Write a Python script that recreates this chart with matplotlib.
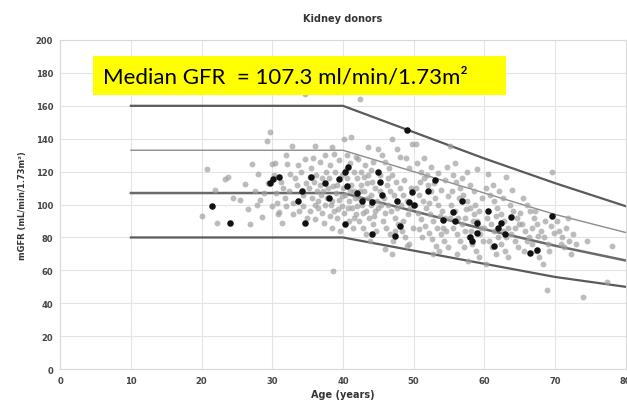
import matplotlib
matplotlib.use("Agg")
import matplotlib.pyplot as plt
from matplotlib.patches import Rectangle

# reference curves (age -> mGFR)
ref_age = [10, 40, 50, 60, 70, 80]
ref_top = [160, 160, 144, 128, 113, 99]
ref_upper = [133, 133, 120, 107, 94, 83]
ref_median = [107, 107, 96, 85, 75, 66]
ref_low = [80, 80, 72, 64, 56, 50]

# donors, grey points
grey = [
    (20, 93), (20.8, 121.6), (21.9, 109), (22.2, 89), (23.3, 115.5), (23.8, 117), (24.5, 104), (25.4, 103),
    (26.1, 112.5), (26.8, 88), (27.1, 124.6), (27.8, 100), (28, 118.5), (28.5, 92.4), (29.2, 138.6), (29.7, 144),
    (29.9, 124.6), (29.9, 99), (28.8, 107), (26.5, 97), (27.5, 108), (29.4, 113), (28.2, 103),
    (30.8, 94), (31, 95.4), (32.9, 94), (32.1, 124.6), (32.8, 135.6), (32.5, 118.5), (31.5, 110), (30.5, 107),
    (31.8, 104), (33.5, 112), (33, 101), (34, 120), (34.6, 127.7), (34.6, 167), (30.2, 118), (31.2, 114),
    (32.4, 108), (33.8, 96), (34.3, 106), (30.6, 101), (31.9, 99), (33.2, 116), (34.8, 113), (32, 130),
    (33.6, 124), (34.4, 99), (30.4, 125), (31.4, 89), (34.9, 92),
    (36, 135.6), (38.4, 135), (35.5, 122), (36.2, 118), (36.8, 112), (37.2, 108), (37.8, 104), (38.3, 100),
    (38.8, 96), (39.2, 92), (35.6, 104), (36.4, 98), (37, 95), (37.6, 120), (38, 116), (38.6, 111), (39, 107),
    (39.4, 103), (39.8, 99), (35.2, 110), (35.9, 114), (36.7, 126), (37.4, 130), (38.2, 124), (38.9, 120),
    (39.5, 127), (39.8, 118), (35.4, 96), (36.1, 91), (37.3, 89), (38.5, 86), (39.6, 84), (38.6, 59.6),
    (36.5, 102), (37.9, 110), (39.1, 112), (35.8, 128), (36.9, 106), (38.1, 93), (39.3, 97), (37.1, 116),
    (38.7, 131), (35.3, 117), (36.3, 108), (37.5, 100), (39.9, 105), (38.4, 102), (36, 100),
    (40.2, 140), (41.2, 141), (42.4, 164), (43.5, 135), (44.9, 133.7), (42.1, 127.7), (40.5, 130), (41, 125),
    (41.6, 120), (42, 116), (42.5, 112), (43, 108), (43.5, 104), (44, 100), (44.5, 96), (40.3, 106),
    (40.8, 102), (41.3, 98), (41.8, 94), (42.3, 90), (42.8, 86), (43.3, 82), (43.8, 78), (40.6, 116),
    (41.1, 112), (41.5, 108), (42.2, 104), (42.7, 100), (43.2, 96), (43.7, 92), (44.2, 88), (44.7, 84),
    (40.1, 95), (40.9, 90), (41.4, 86), (42.6, 120), (43.1, 124), (43.6, 118), (44.1, 114), (44.6, 110),
    (44.3, 126), (40.4, 121), (41.7, 104), (42.9, 95), (43.9, 106), (44.8, 102), (40.7, 98), (41.9, 129),
    (42.4, 108), (43.4, 113), (44.4, 93), (41, 108), (42, 99), (43, 117), (44, 121), (45, 98), (40, 110),
    (41.5, 92),
    (45.5, 130), (46, 126), (46.5, 122), (47, 118), (47.5, 114), (48, 110), (48.5, 106), (49, 102), (49.5, 98),
    (45.3, 108), (45.8, 104), (46.3, 100), (46.8, 96), (47.3, 92), (47.8, 88), (48.3, 84), (48.8, 80),
    (49.3, 76), (45.6, 90), (46.1, 86), (46.6, 82), (47.1, 78), (45.2, 118), (46.2, 112), (47.2, 106),
    (48.2, 100), (49.2, 94), (48, 129), (49.4, 122), (47.6, 134), (46.9, 140), (49.7, 137), (45.9, 95),
    (46.7, 108), (47.7, 98), (48.7, 115), (49.6, 110), (48.5, 90), (46.4, 116), (45.4, 100), (47.4, 84),
    (49.9, 86), (48.9, 128), (46, 73), (47, 70), (49, 75),
    (50.4, 136.8), (54.7, 123), (55.1, 135.6), (50.5, 125), (51, 120), (51.5, 116), (52, 112), (52.5, 108),
    (53, 104), (53.5, 100), (54, 96), (54.5, 92), (50.3, 110), (50.8, 106), (51.3, 102), (51.8, 98),
    (52.3, 94), (52.8, 90), (53.3, 86), (53.8, 82), (54.3, 78), (54.8, 74), (50.6, 95), (51.1, 91),
    (51.6, 87), (52.1, 83), (52.6, 79), (53.1, 75), (50.9, 114), (51.9, 118), (52.9, 113), (53.9, 109),
    (54.9, 105), (51.4, 128), (52.4, 123), (53.4, 119), (54.4, 115), (50.2, 100), (52.2, 101), (53.7, 93),
    (54.2, 86), (51.2, 80), (50.7, 85), (53.6, 72), (52.7, 70), (54.6, 84),
    (57.6, 120), (58.9, 121.6), (55.5, 118), (56, 114), (56.5, 110), (57, 106), (57.5, 102), (58, 98),
    (58.5, 94), (59, 90), (59.5, 86), (55.3, 100), (55.8, 96), (56.3, 92), (56.8, 88), (57.3, 84), (57.8, 80),
    (58.3, 76), (58.8, 72), (59.3, 68), (55.6, 86), (56.1, 82), (56.6, 78), (57.1, 74), (55.4, 108),
    (56.4, 104), (57.4, 97), (58.4, 90), (59.4, 82), (55.9, 125), (56.9, 116), (57.9, 112), (58.6, 108),
    (59.6, 104), (59.2, 96), (56.2, 70), (57.7, 66), (58.1, 84), (59.8, 78), (55.2, 92), (57.2, 92), (58.7, 100),
    (60.5, 118.5), (63.1, 116.7), (60.3, 110), (60.8, 106), (61.3, 102), (61.8, 98), (62.3, 94), (62.8, 90),
    (63.3, 86), (63.8, 82), (64.3, 78), (64.8, 74), (60.4, 92), (60.9, 88), (61.4, 84), (61.9, 80),
    (62.4, 76), (62.9, 72), (63.4, 68), (60.6, 78), (61.1, 74), (61.6, 70), (60.2, 64), (62.1, 108),
    (62.6, 104), (63.6, 100), (64.1, 96), (64.6, 92), (61.2, 112), (64.4, 86), (63, 80), (61.7, 93),
    (62.7, 84), (60, 86), (64.9, 88), (63.9, 109),
    (69.6, 119.8), (65.5, 104), (66, 100), (66.5, 96), (67, 92), (67.5, 88), (68, 84), (68.5, 80), (69, 76),
    (65.3, 88), (65.8, 84), (66.3, 80), (66.8, 76), (67.3, 72), (67.8, 68), (68.3, 64), (65.6, 72),
    (66.1, 78), (68.8, 48), (69.4, 87), (69.9, 83), (67.2, 96), (68.6, 90), (65.1, 95), (66.7, 86),
    (69.2, 72), (67.6, 81),
    (70.5, 84), (71, 80), (71.5, 86), (72, 78), (72.5, 82), (73, 76), (73.9, 44), (70.3, 90), (71.3, 74),
    (72.3, 70), (70.8, 76), (77.4, 53), (78, 75), (74.5, 78), (71.8, 92),
]

# donors, black points
black = [
    (21.5, 99), (24, 89), (30.1, 115.5), (29.7, 113), (33.6, 102), (34.6, 89), (34.2, 108), (37.4, 113),
    (39.4, 115.5), (40.5, 111), (40.3, 120), (40.7, 123), (42.7, 102), (44.1, 101.5), (40.3, 88),
    (45.2, 114), (44.9, 120), (47.6, 102), (48, 87), (47.3, 81), (44.1, 82), (49.4, 101.5), (49, 145),
    (49.7, 107.6), (50.1, 100), (56.8, 102), (55.5, 95.4), (54.1, 90.6), (55.8, 90), (58.9, 89), (59, 83),
    (57.9, 80), (58.2, 78), (62.4, 89), (63.8, 92.4), (62.9, 82), (61.4, 75), (66.4, 70.5), (67.5, 72.3),
    (69.6, 93), (35.5, 117), (31, 117), (45.5, 106), (52, 108), (53, 115), (60.5, 96), (62, 86),
    (38, 104), (42, 107),
]

title = "Kidney donors"
xlabel = "Age (years)"
ylabel = "mGFR (mL/min/1.73m²)"
banner = "Median GFR  = 107.3 ml/min/1.73m²"

fig = plt.figure(figsize=(6.27, 4.14), dpi=100)
ax = fig.add_axes([0.096, 0.106, 0.902, 0.795])

ax.plot(ref_age, ref_top, color="#5a5a5a", lw=1.6, zorder=2)
ax.plot(ref_age, ref_upper, color="#8c8c8c", lw=1.0, zorder=2)
ax.plot(ref_age, ref_median, color="#6a6a6a", lw=1.8, zorder=2)
ax.plot(ref_age, ref_low, color="#5a5a5a", lw=1.6, zorder=2)

ax.scatter([p[0] for p in grey], [p[1] for p in grey], s=18, color="#a0a0a0",
           alpha=0.7, linewidths=0, zorder=3)
ax.scatter([p[0] for p in black], [p[1] for p in black], s=22, color="#111111",
           linewidths=0, zorder=4)

ax.set_xlim(0, 80)
ax.set_ylim(0, 200)
ax.set_xticks(range(0, 81, 10))
ax.set_yticks(range(0, 201, 20))
ax.grid(True, color="#e4e4e4", lw=0.8)
ax.set_axisbelow(True)
for s in ax.spines.values():
    s.set_color("#d9d9d9")
ax.tick_params(length=0, labelsize=6, colors="#444444", pad=5)
for t in ax.get_xticklabels() + ax.get_yticklabels():
    t.set_fontweight("bold")

ax.set_xlabel(xlabel, fontsize=7, fontweight="bold", color="#333333", labelpad=3)
ax.set_ylabel(ylabel, fontsize=6, fontweight="bold", color="#333333", labelpad=6)
fig.text(0.547, 0.955, title, ha="center", va="center", fontsize=7, fontweight="bold", color="#333333")

ax.add_patch(Rectangle((0.058, 0.832), 0.73, 0.118, transform=ax.transAxes,
                       facecolor="#ffff00", edgecolor="none", zorder=5))
ax.text(0.075, 0.889, banner, transform=ax.transAxes, fontsize=16, family="Lato",
        va="center", ha="left", zorder=6)

fig.savefig("out.png", dpi=100)
